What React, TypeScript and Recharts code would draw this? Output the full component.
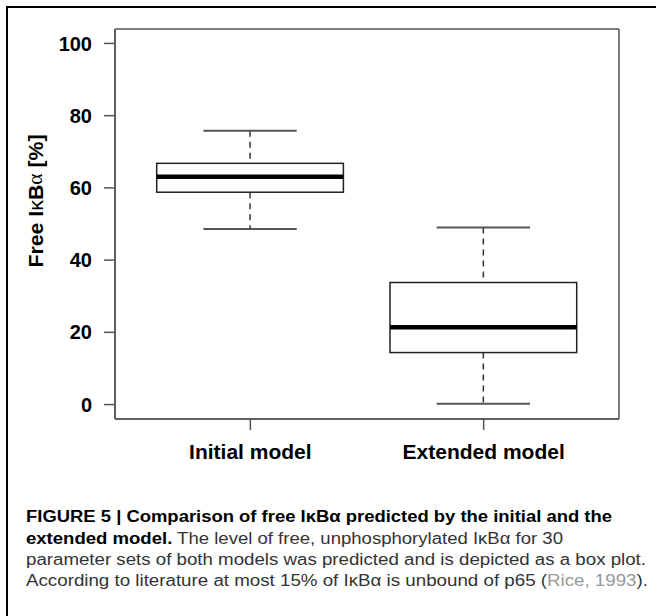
import { Bar, CartesianGrid, ComposedChart, XAxis, YAxis } from "recharts";

const categories = ["Initial model", "Extended model"];
const whiskerLow = [48.6, 0.2];
const lowerQuartile = [58.8, 14.4];
const medians = [63.1, 21.4];
const upperQuartile = [66.8, 33.8];
const whiskerHigh = [75.8, 49.0];
const yTicks = [0, 20, 40, 60, 80, 100];

const data = categories.map((name, i) => ({
  name,
  lo: whiskerLow[i],
  q1: lowerQuartile[i],
  med: medians[i],
  q3: upperQuartile[i],
  hi: whiskerHigh[i],
}));

const font = "'Liberation Sans', Arial, sans-serif";
const frame = { stroke: "#555", strokeWidth: 1.5 };

// one box: whiskers, box and median, placed from the bar's own scaled range
function BoxShape(props: any) {
  const { x, y, width, height, payload } = props;
  const top = Math.min(y, y + height);
  const bottom = Math.max(y, y + height);
  const py = (v: number) =>
    bottom - ((v - payload.lo) / (payload.hi - payload.lo)) * (bottom - top);
  const cx = x + width / 2;
  const cap = width / 4;
  return (
    <g>
      <line x1={cx} x2={cx} y1={py(payload.hi)} y2={py(payload.q3)} stroke="#333" strokeWidth={1.5} strokeDasharray="6 5" />
      <line x1={cx} x2={cx} y1={py(payload.q1)} y2={py(payload.lo)} stroke="#333" strokeWidth={1.5} strokeDasharray="6 5" />
      <line x1={cx - cap} x2={cx + cap} y1={py(payload.hi)} y2={py(payload.hi)} stroke="#555" strokeWidth={2} />
      <line x1={cx - cap} x2={cx + cap} y1={py(payload.lo)} y2={py(payload.lo)} stroke="#555" strokeWidth={2} />
      <rect x={x} y={py(payload.q3)} width={width} height={py(payload.q1) - py(payload.q3)} fill="#fff" stroke="#222" strokeWidth={1.5} />
      <line x1={x} x2={x + width} y1={py(payload.med)} y2={py(payload.med)} stroke="#000" strokeWidth={4.5} />
    </g>
  );
}

function YLabel() {
  return (
    <text
      x={35}
      y={201}
      transform="rotate(-90, 35, 201)"
      textAnchor="middle"
      dominantBaseline="central"
      fontFamily={font}
      fontSize={21}
      fontWeight="bold"
      fill="#000"
      textLength={133}
      lengthAdjust="spacingAndGlyphs"
    >
      Free I<tspan fontWeight="normal">κ</tspan>B
      <tspan fontWeight="normal" fontFamily="'Liberation Serif', serif">α</tspan> [%]
    </text>
  );
}

// frame edges come from the plot area itself
const frameRows = (p: any) => [p.offset.top, p.offset.top + p.offset.height];
const frameCols = (p: any) => [p.offset.left, p.offset.left + p.offset.width];

export default function App() {
  return (
    <div
      style={{
        position: "absolute",
        left: 0,
        top: 0,
        width: 656,
        height: 616,
        overflow: "hidden",
        background: "#fff",
        fontFamily: font,
      }}
    >
      <div
        style={{
          position: "absolute",
          left: 6,
          top: 6,
          width: 700,
          height: 700,
          border: "2px solid #000",
        }}
      />
      <div style={{ position: "absolute", left: 0, top: 0 }}>
        <ComposedChart
          width={656}
          height={480}
          data={data}
          margin={{ top: 29, right: 37, bottom: 11, left: 0 }}
        >
          <CartesianGrid
            stroke="#555"
            strokeWidth={1.5}
            horizontalCoordinatesGenerator={frameRows}
            verticalCoordinatesGenerator={frameCols}
          />
          <XAxis
            dataKey="name"
            padding={{ left: 18.7, right: 18.7 }}
            axisLine={frame}
            tickLine={frame}
            tickSize={11}
            tickMargin={14}
            height={50}
            tick={{ fill: "#000", fontSize: 21, fontWeight: "bold", fontFamily: font }}
          />
          <YAxis
            type="number"
            domain={[-4, 104]}
            ticks={yTicks}
            allowDataOverflow
            width={115}
            axisLine={frame}
            tickLine={frame}
            tickSize={11}
            tickMargin={12}
            tick={{ fill: "#000", fontSize: 20, fontWeight: "bold", fontFamily: font }}
            label={<YLabel />}
          />
          <Bar
            dataKey={(d: any) => [d.lo, d.hi]}
            barSize={186.7}
            shape={BoxShape}
            isAnimationActive={false}
          />
        </ComposedChart>
      </div>
      <svg
        width={656}
        height={616}
        style={{ position: "absolute", left: 0, top: 0 }}
        fontFamily={font}
        fontSize={16}
      >
        <text x={26} y={522} fontWeight="bold" fill="#000" textLength={586} lengthAdjust="spacingAndGlyphs">
          FIGURE 5 | Comparison of free IκBα predicted by the initial and the
        </text>
        <text x={26} y={543.5} fill="#333" textLength={537} lengthAdjust="spacingAndGlyphs">
          <tspan fontWeight="bold" fill="#000">extended model.</tspan> The level of free, unphosphorylated IκBα for 30
        </text>
        <text x={26} y={564.5} fill="#333" textLength={620} lengthAdjust="spacingAndGlyphs">
          parameter sets of both models was predicted and is depicted as a box plot.
        </text>
        <text x={26} y={585.5} fill="#333" textLength={622} lengthAdjust="spacingAndGlyphs">
          According to literature at most 15% of IκBα is unbound of p65 (<tspan fill="#999">Rice, 1993</tspan>).
        </text>
      </svg>
    </div>
  );
}
